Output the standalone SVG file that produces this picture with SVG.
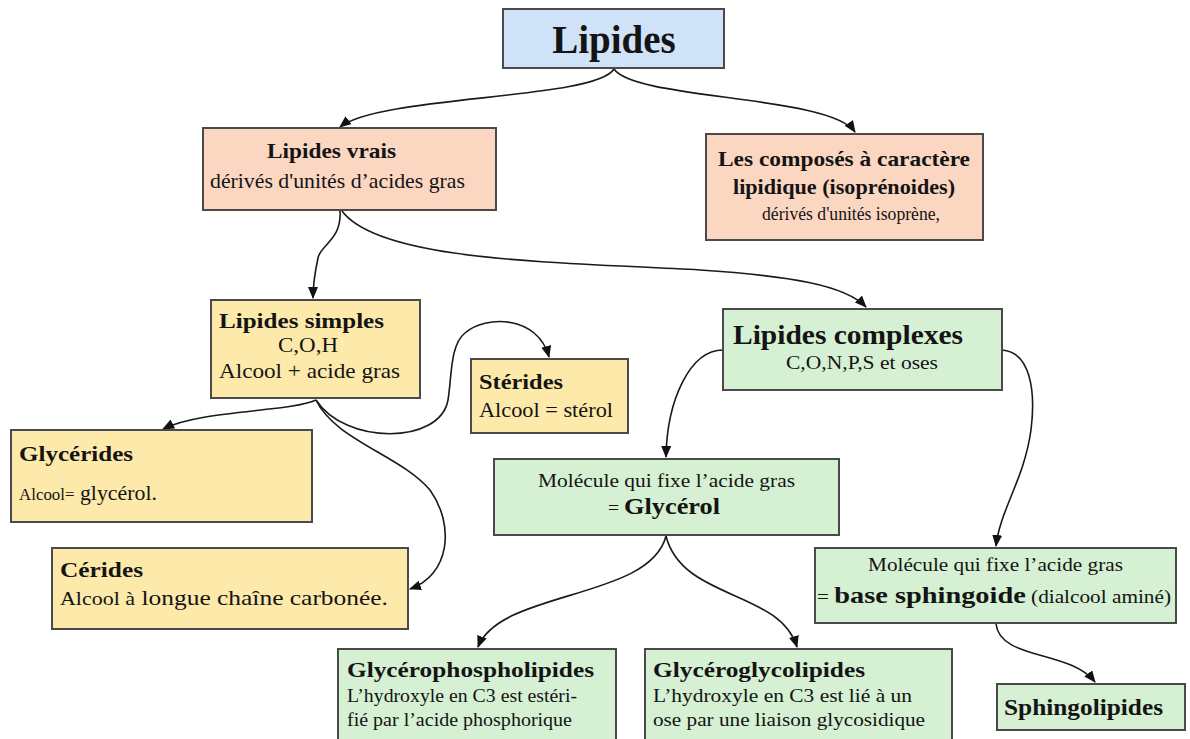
<svg xmlns="http://www.w3.org/2000/svg" width="1190" height="739" viewBox="0 0 1190 739">
  <style>
    .box { stroke: #4a4a4a; stroke-width: 2; }
    .blue { fill: #d0e2f8; }
    .peach { fill: #fbd6c1; }
    .yellow { fill: #fde9a9; }
    .green { fill: #d5f0d3; }
    text { font-family: "Liberation Serif", "Times New Roman", serif; fill: #141414; }
    .b { font-weight: bold; }
    .link { fill: none; stroke: #1a1a1a; stroke-width: 1.6; marker-end: url(#arrow); }
  </style>
  <defs>
    <marker id="arrow" viewBox="0 0 12 10" refX="11" refY="5" markerWidth="12" markerHeight="10" markerUnits="userSpaceOnUse" orient="auto">
      <path d="M0,0 L12,5 L0,10 Z" fill="#111"/>
    </marker>
  </defs>
  <rect width="1190" height="739" fill="#ffffff"/>

  <g id="connectors">
    <path class="link" d="M614,69 C595,100 380,95 340,127"/>
    <path class="link" d="M614,69 C635,100 830,95 855,132"/>
    <path class="link" d="M340,211 C342,240 320,245 318,258 C315,272 313,285 313,298"/>
    <path class="link" d="M342,211 C380,262 560,262 700,270 C790,276 845,285 866,307"/>
    <path class="link" d="M316,400 C290,412 200,410 163,429"/>
    <path class="link" d="M316,400 C335,440 400,455 430,490 C455,525 450,575 410,589"/>
    <path class="link" d="M316,400 C345,445 440,445 448,400 C452,375 450,345 465,333 C485,315 538,315 549,357"/>
    <path class="link" d="M723,350 C690,350 667,400 666,457"/>
    <path class="link" d="M1002,350 C1030,352 1036,390 1031,430 C1024,480 1000,510 996,546"/>
    <path class="link" d="M666,536 C650,600 500,590 478,647"/>
    <path class="link" d="M666,536 C682,600 780,590 797,647"/>
    <path class="link" d="M996,624 C1000,660 1070,650 1095,682"/>
  </g>

  <g id="lipides">
    <rect class="box blue" x="503" y="9" width="221" height="59"/>
    <text class="b" x="614" y="53" font-size="39" text-anchor="middle">Lipides</text>
  </g>

  <g id="lipides-vrais">
    <rect class="box peach" x="203" y="128" width="293" height="82"/>
    <text class="b" x="267" y="158" font-size="22" textLength="129" lengthAdjust="spacingAndGlyphs">Lipides vrais</text>
    <text x="210" y="188" font-size="21" textLength="255" lengthAdjust="spacingAndGlyphs">dérivés d'unités d’acides gras</text>
  </g>

  <g id="isoprenoides">
    <rect class="box peach" x="706" y="134" width="277" height="106"/>
    <text class="b" x="718" y="166" font-size="22" textLength="252" lengthAdjust="spacingAndGlyphs">Les composés à caractère</text>
    <text class="b" x="733" y="194" font-size="22" textLength="222" lengthAdjust="spacingAndGlyphs">lipidique (isoprénoides)</text>
    <text x="762" y="220" font-size="19" textLength="178" lengthAdjust="spacingAndGlyphs">dérivés d'unités isoprène,</text>
  </g>

  <g id="lipides-simples">
    <rect class="box yellow" x="211" y="300" width="209" height="98"/>
    <text class="b" x="219" y="328" font-size="22" textLength="165" lengthAdjust="spacingAndGlyphs">Lipides simples</text>
    <text x="278" y="352" font-size="20" textLength="60" lengthAdjust="spacingAndGlyphs">C,O,H</text>
    <text x="219" y="378" font-size="21" textLength="181" lengthAdjust="spacingAndGlyphs">Alcool + acide gras</text>
  </g>

  <g id="sterides">
    <rect class="box yellow" x="471" y="359" width="157" height="74"/>
    <text class="b" x="479" y="389" font-size="22" textLength="84" lengthAdjust="spacingAndGlyphs">Stérides</text>
    <text x="479" y="417" font-size="21" textLength="134" lengthAdjust="spacingAndGlyphs">Alcool = stérol</text>
  </g>

  <g id="lipides-complexes">
    <rect class="box green" x="723" y="309" width="279" height="81"/>
    <text class="b" x="733" y="344" font-size="28" textLength="230" lengthAdjust="spacingAndGlyphs">Lipides complexes</text>
    <text x="786" y="369" font-size="18" textLength="152" lengthAdjust="spacingAndGlyphs">C,O,N,P,S et oses</text>
  </g>

  <g id="glycerides">
    <rect class="box yellow" x="11" y="430" width="301" height="92"/>
    <text class="b" x="19" y="461" font-size="22" textLength="114" lengthAdjust="spacingAndGlyphs">Glycérides</text>
    <text x="19" y="500" textLength="138" lengthAdjust="spacingAndGlyphs"><tspan font-size="17">Alcool=</tspan><tspan font-size="22"> glycérol.</tspan></text>
  </g>

  <g id="cerides">
    <rect class="box yellow" x="52" y="548" width="356" height="81"/>
    <text class="b" x="60" y="577" font-size="22" textLength="83" lengthAdjust="spacingAndGlyphs">Cérides</text>
    <text x="60" y="605" textLength="328" lengthAdjust="spacingAndGlyphs"><tspan font-size="19">Alcool à</tspan><tspan font-size="22"> longue chaîne carbonée.</tspan></text>
  </g>

  <g id="glycerol">
    <rect class="box green" x="494" y="459" width="345" height="76"/>
    <text x="538" y="487" font-size="18" textLength="257" lengthAdjust="spacingAndGlyphs">Molécule qui fixe l’acide gras</text>
    <text x="608" y="514" textLength="112" lengthAdjust="spacingAndGlyphs"><tspan font-size="18">= </tspan><tspan class="b" font-size="24">Glycérol</tspan></text>
  </g>

  <g id="base-sphingoide">
    <rect class="box green" x="815" y="548" width="361" height="75"/>
    <text x="868" y="571" font-size="18" textLength="255" lengthAdjust="spacingAndGlyphs">Molécule qui fixe l’acide gras</text>
    <text x="817" y="603" textLength="354" lengthAdjust="spacingAndGlyphs"><tspan font-size="18">= </tspan><tspan class="b" font-size="24">base sphingoide</tspan><tspan font-size="18"> (dialcool aminé)</tspan></text>
  </g>

  <g id="sphingolipides">
    <rect class="box green" x="997" y="684" width="188" height="46"/>
    <text class="b" x="1004" y="715" font-size="24" textLength="159" lengthAdjust="spacingAndGlyphs">Sphingolipides</text>
  </g>

  <g id="glycerophospholipides">
    <rect class="box green" x="338" y="649" width="278" height="100"/>
    <text class="b" x="347" y="677" font-size="22" textLength="247" lengthAdjust="spacingAndGlyphs">Glycérophospholipides</text>
    <text x="347" y="702" font-size="19" textLength="230" lengthAdjust="spacingAndGlyphs">L’hydroxyle en C3 est estéri-</text>
    <text x="347" y="726" font-size="19" textLength="225" lengthAdjust="spacingAndGlyphs">fié par l’acide phosphorique</text>
  </g>

  <g id="glyceroglycolipides">
    <rect class="box green" x="645" y="649" width="307" height="100"/>
    <text class="b" x="653" y="677" font-size="22" textLength="212" lengthAdjust="spacingAndGlyphs">Glycéroglycolipides</text>
    <text x="653" y="702" font-size="19" textLength="259" lengthAdjust="spacingAndGlyphs">L’hydroxyle en C3 est lié à un</text>
    <text x="653" y="726" font-size="19" textLength="272" lengthAdjust="spacingAndGlyphs">ose par une liaison glycosidique</text>
  </g>
</svg>
